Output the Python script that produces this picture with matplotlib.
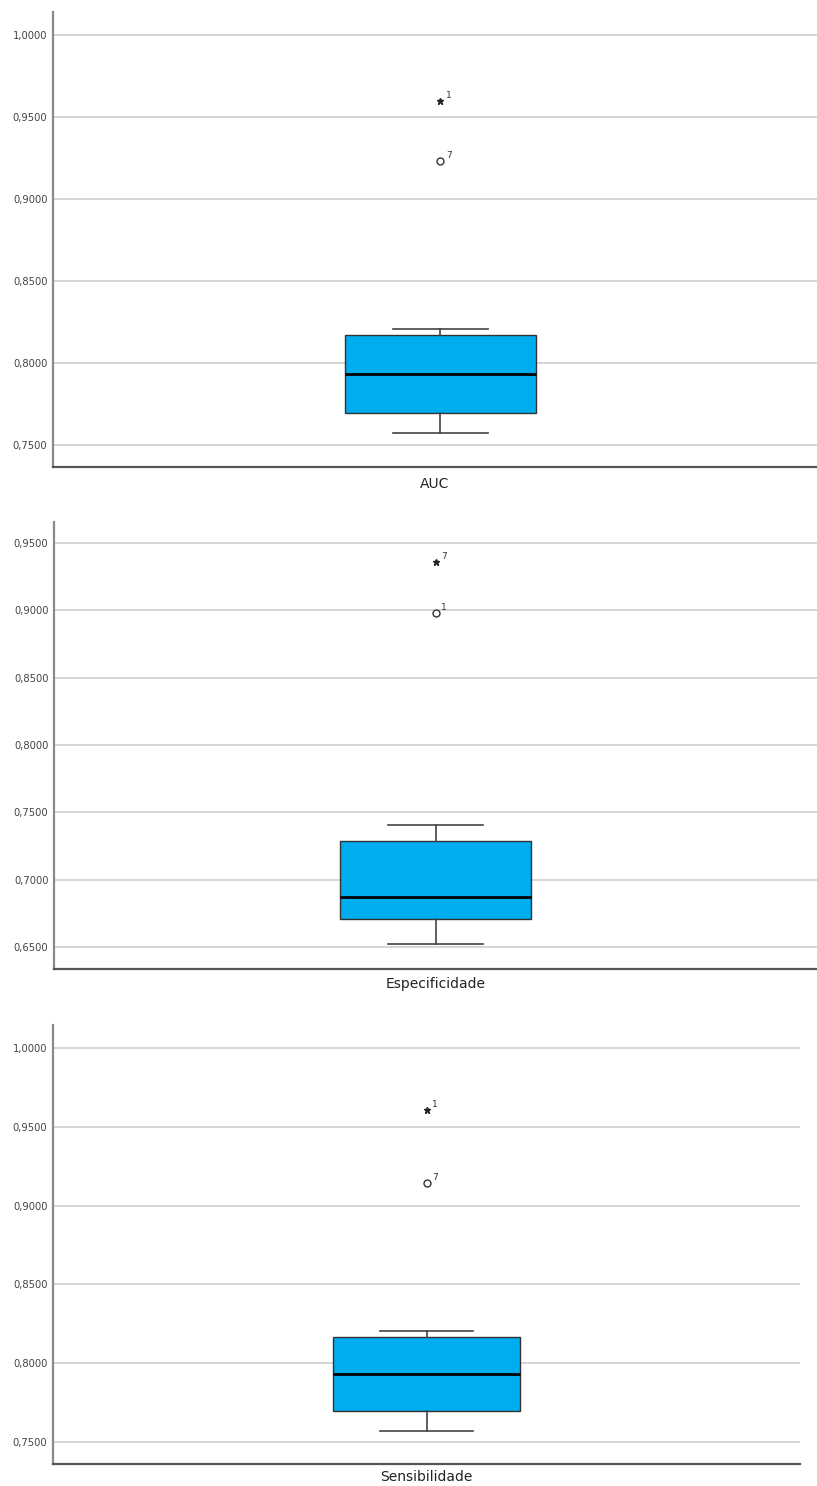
import matplotlib
matplotlib.use("Agg")
import matplotlib.pyplot as plt
from matplotlib.ticker import FuncFormatter

# valores (resumo dos boxplots, estilo SPSS)
metricas = ["AUC", "Especificidade", "Sensibilidade"]
whisker_inf = [0.7573, 0.6522, 0.7570]
q1 = [0.7695, 0.6708, 0.7697]
medianas = [0.7933, 0.6871, 0.7931]
q3 = [0.8171, 0.7287, 0.8166]
whisker_sup = [0.8207, 0.7406, 0.8204]

# outliers: (valor, caso) -> circulo = outlier, estrela = extremo
outliers_circ = [(0.9232, "7"), (0.8980, "1"), (0.9143, "7")]
outliers_ext = [(0.9598, "1"), (0.9358, "7"), (0.9607, "1")]

y_lims = [(0.7366, 1.014), (0.6337, 0.9656), (0.736, 1.0146)]
y_ticks = [
    [0.75, 0.80, 0.85, 0.90, 0.95, 1.00],
    [0.65, 0.70, 0.75, 0.80, 0.85, 0.90, 0.95],
    [0.75, 0.80, 0.85, 0.90, 0.95, 1.00],
]

# posição dos eixos em pixels (esq, dir, topo, base) e deslocamento da caixa
W, H = 817, 1486
caixas_px = [(53, 817, 12, 467), (54, 817, 522, 969), (53, 800, 1025, 1464)]
desloc_x = [0.007, 0.0, 0.0]
label_pad = [7, 6, 4]

COR_CAIXA = "#00AEEF"
COR_EIXO = "#8a8a8a"
COR_GRADE = "#cfcfcf"

fmt = FuncFormatter(lambda v, pos: f"{v:.4f}".replace(".", ","))

fig = plt.figure(figsize=(W / 100, H / 100), dpi=100)

for i, nome in enumerate(metricas):
    l, r, t, b = caixas_px[i]
    ax = fig.add_axes([l / W, 1 - b / H, (r - l) / W, (b - t) / H])

    stats = [{
        "whislo": whisker_inf[i], "q1": q1[i], "med": medianas[i],
        "q3": q3[i], "whishi": whisker_sup[i], "fliers": [],
    }]
    ax.bxp(stats, positions=[0], widths=0.25, patch_artist=True,
           showfliers=False,
           boxprops=dict(facecolor=COR_CAIXA, edgecolor="#333333", linewidth=1.0),
           medianprops=dict(color="black", linewidth=2.0),
           whiskerprops=dict(color="#444444", linewidth=1.2),
           capprops=dict(color="#444444", linewidth=1.2),
           capwidths=0.125, zorder=3)

    vc, lc = outliers_circ[i]
    ve, le = outliers_ext[i]
    ax.plot([0], [vc], marker="o", markersize=5, markerfacecolor="white",
            markeredgecolor="#333333", markeredgewidth=1.0, linestyle="none", zorder=4)
    ax.plot([0], [ve], marker="*", markersize=5, color="#222222",
            linestyle="none", zorder=4)
    ax.annotate(lc, (0, vc), xytext=(4, 2), textcoords="offset points",
                fontsize=6.5, color="#333333")
    ax.annotate(le, (0, ve), xytext=(4, 2), textcoords="offset points",
                fontsize=6.5, color="#333333")

    ax.set_xlim(-0.5 - desloc_x[i], 0.5 - desloc_x[i])
    ax.set_ylim(*y_lims[i])
    ax.set_yticks(y_ticks[i])
    ax.yaxis.set_major_formatter(fmt)
    ax.set_xticks([])
    ax.tick_params(axis="y", length=0, labelsize=7.2, labelcolor="#444444", pad=4)
    ax.grid(axis="y", color=COR_GRADE, linewidth=1.2, zorder=0)
    ax.set_axisbelow(True)

    for s in ("top", "right"):
        ax.spines[s].set_visible(False)
    ax.spines["left"].set_color(COR_EIXO)
    ax.spines["left"].set_linewidth(1.6)
    ax.spines["bottom"].set_color("#555555")
    ax.spines["bottom"].set_linewidth(1.6)

    ax.set_xlabel(nome, fontsize=10, color="#222222", labelpad=label_pad[i])

fig.savefig("out.png", dpi=100, facecolor="white")
